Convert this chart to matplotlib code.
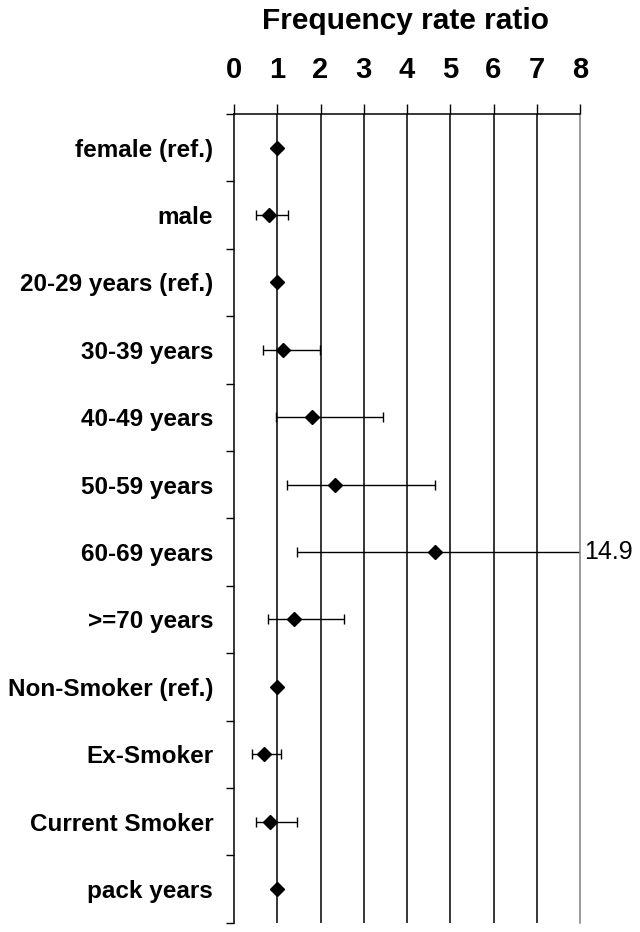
import numpy as np
import matplotlib.pyplot as plt
from matplotlib.ticker import FixedLocator

plt.rcParams['font.family'] = ['Liberation Sans', 'DejaVu Sans']

labels = ["female (ref.)", "male", "20-29 years (ref.)", "30-39 years",
          "40-49 years", "50-59 years", "60-69 years", ">=70 years",
          "Non-Smoker (ref.)", "Ex-Smoker", "Current Smoker", "pack years"]
ratio = [1.0, 0.81, 1.0, 1.14, 1.80, 2.33, 4.65, 1.39, 1.0, 0.70, 0.83, 0.99]
ci_low = [np.nan, 0.52, np.nan, 0.66, 0.96, 1.22, 1.46, 0.78, np.nan, 0.41, 0.52, np.nan]
ci_high = [np.nan, 1.26, np.nan, 1.99, 3.45, 4.65, 14.9, 2.54, np.nan, 1.09, 1.46, np.nan]
xmax = 8

ratio = np.array(ratio)
ci_low = np.array(ci_low)
ci_high = np.array(ci_high)
ypos = np.arange(len(labels))

fig = plt.figure(figsize=(6.4, 9.32), dpi=100)
ax = fig.add_axes([234 / 640, 1 - 922.7 / 932, (580 - 234) / 640, (922.7 - 114) / 932])

# grid lines at each integer
for x in range(1, xmax):
    ax.axvline(x, color='black', lw=1.1, zorder=1)

has_ci = ~np.isnan(ci_low)
ax.errorbar(ratio[has_ci], ypos[has_ci],
            xerr=[ratio[has_ci] - ci_low[has_ci], ci_high[has_ci] - ratio[has_ci]],
            fmt='none', ecolor='black', elinewidth=1.0, capsize=3.6, capthick=1.0, zorder=2)
ax.plot(ratio, ypos, 'D', color='black', markersize=6.8, zorder=3)

# upper limits beyond the axis are written at the edge
for y, hi in zip(ypos, ci_high):
    if hi > xmax:
        ax.annotate(f"{hi:.1f}", xy=(xmax, y), xytext=(3, 0), textcoords='offset points',
                    va='center', ha='left', fontsize=18, annotation_clip=False)

ax.set_xlim(0, xmax)
ax.set_ylim(len(labels) - 0.5, -0.5)
ax.xaxis.set_ticks_position('top')
ax.set_xticks(range(0, xmax + 1))
ax.tick_params(axis='x', which='major', direction='out', length=7, width=1,
               pad=14.5, labelsize=21)
for t in ax.get_xticklabels():
    t.set_fontweight('bold')

ax.set_yticks(ypos)
ax.set_yticklabels(labels, fontsize=17.5, fontweight='bold')
ax.yaxis.set_minor_locator(FixedLocator(np.arange(-0.5, len(labels), 1)))
ax.tick_params(axis='y', which='major', length=0, pad=15)
ax.tick_params(axis='y', which='minor', length=6, width=1, direction='out')

ax.spines['bottom'].set_visible(False)
ax.spines['right'].set_color('0.5')
ax.spines['left'].set_linewidth(1.1)
ax.spines['top'].set_linewidth(1.1)
ax.spines['right'].set_linewidth(1.1)

fig.text(406 / 640, 1 - 21 / 932, "Frequency rate ratio", ha='center', va='center',
         fontsize=21.5, fontweight='bold')

fig.savefig('out.png', dpi=100)
